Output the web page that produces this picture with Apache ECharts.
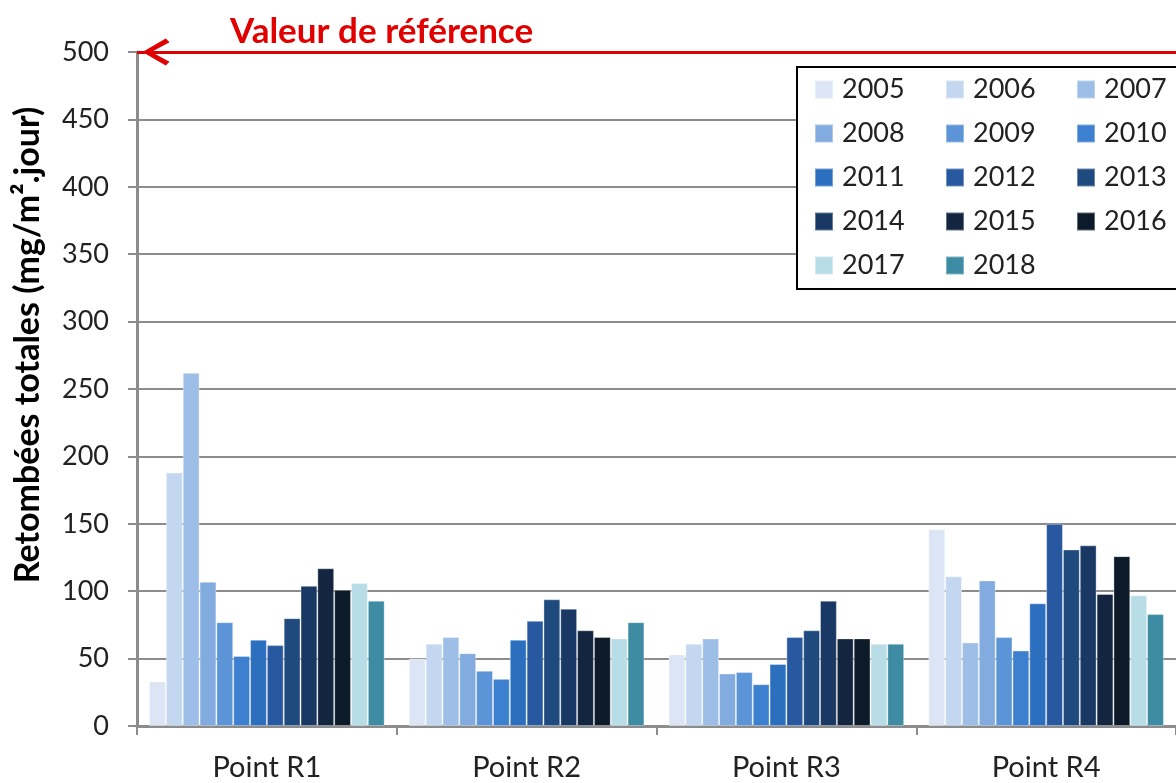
<!DOCTYPE html>
<html>
<head>
<meta charset="utf-8">
<script src="https://cdn.jsdelivr.net/npm/echarts@6/dist/echarts.min.js"></script>
<style>html,body{margin:0;padding:0;background:#fff;}#c{width:1176px;height:783px;}</style>
</head>
<body>
<div id="c"></div>
<script>
const categories = ['Point R1', 'Point R2', 'Point R3', 'Point R4'];
const years = ['2005','2006','2007','2008','2009','2010','2011','2012','2013','2014','2015','2016','2017','2018'];
const v2005 = [33, 50, 53, 146];
const v2006 = [188, 61, 61, 111];
const v2007 = [262, 66, 65, 62];
const v2008 = [107, 54, 39, 108];
const v2009 = [77, 41, 40, 66];
const v2010 = [52, 35, 31, 56];
const v2011 = [64, 64, 46, 91];
const v2012 = [60, 78, 66, 150];
const v2013 = [80, 94, 71, 131];
const v2014 = [104, 87, 93, 134];
const v2015 = [117, 71, 65, 98];
const v2016 = [101, 66, 65, 126];
const v2017 = [106, 65, 61, 97];
const v2018 = [93, 77, 61, 83];
const seriesValues = [v2005, v2006, v2007, v2008, v2009, v2010, v2011, v2012, v2013, v2014, v2015, v2016, v2017, v2018];
const colors = ['#dbe5f5','#c3d8f0','#9dbfe7','#82abe0','#5b94d7','#3d80d0','#2d6fbf','#2859a0','#1f4a7e','#193863','#13253f','#0c1a2a','#b8dde7','#3d8ca3'];
const referenceValue = 500;
const referenceLabel = 'Valeur de référence';
const yTicks = { min: 0, max: 500, interval: 50 };

const FONT = 'Lato';
const GRAY = '#8c8c8c';
const RED = '#e00000';

const series = years.map((y, i) => {
  const s = {
    name: y,
    type: 'bar',
    data: seriesValues[i],
    barGap: '0%',
    barCategoryGap: '9.3%',
    itemStyle: { color: colors[i], borderColor: 'rgba(255,255,255,0.35)', borderWidth: 1 },
    emphasis: { disabled: true }
  };
  if (i === 0) {
    s.markLine = {
      silent: true,
      symbol: ['path://M5,0 L10,8.6 L8.6,10 L5,3.3 L1.4,10 L0,8.6 Z', 'none'],
      symbolSize: [27, 27],
      symbolOffset: [[0, 19], [0, 0]],
      lineStyle: { color: RED, width: 3, type: 'solid' },
      label: {
        show: true,
        position: 'insideStartTop',
        formatter: referenceLabel,
        color: RED,
        fontFamily: FONT,
        fontWeight: 'bold',
        fontSize: 35,
        distance: [93, 3]
      },
      data: [{ yAxis: referenceValue }]
    };
  }
  return s;
});

const chart = echarts.init(document.getElementById('c'));
chart.setOption({
  animation: false,
  backgroundColor: '#fff',
  color: colors,
  grid: { left: 137, top: 52, width: 1047, height: 674, containLabel: false },
  legend: {
    data: years,
    left: 797,
    top: 67,
    width: 395,
    orient: 'horizontal',
    padding: [9, 10, 10, 17],
    itemWidth: 18,
    itemHeight: 18,
    itemGap: 17,
    icon: 'rect',
    borderColor: '#000',
    borderWidth: 2,
    backgroundColor: '#fff',
    selectedMode: false,
    textStyle: {
      fontFamily: FONT, fontSize: 27, color: '#222',
      width: 86, lineHeight: 27, padding: [0, 0, 0, 4], backgroundColor: '#fff'
    }
  },
  xAxis: {
    type: 'category',
    data: categories,
    axisLine: { lineStyle: { color: GRAY, width: 3 } },
    axisTick: { show: true, length: 9, lineStyle: { color: GRAY, width: 2 } },
    axisLabel: { fontFamily: FONT, fontSize: 29, color: '#222', margin: 27 }
  },
  yAxis: {
    type: 'value',
    min: yTicks.min,
    max: yTicks.max,
    interval: yTicks.interval,
    name: 'Retombées totales (mg/m².jour)',
    nameLocation: 'middle',
    nameGap: 92,
    nameTextStyle: { fontFamily: FONT, fontWeight: 'bold', fontSize: 34, color: '#000', padding: [0, 0, 0, 88] },
    axisLine: { show: true, lineStyle: { color: GRAY, width: 3 } },
    axisTick: { show: true, length: 9, lineStyle: { color: GRAY, width: 2 } },
    splitLine: { show: true, lineStyle: { color: GRAY, width: 2 } },
    axisLabel: { fontFamily: FONT, fontSize: 27, color: '#222', margin: 28 }
  },
  series: series
});
</script>
</body>
</html>
